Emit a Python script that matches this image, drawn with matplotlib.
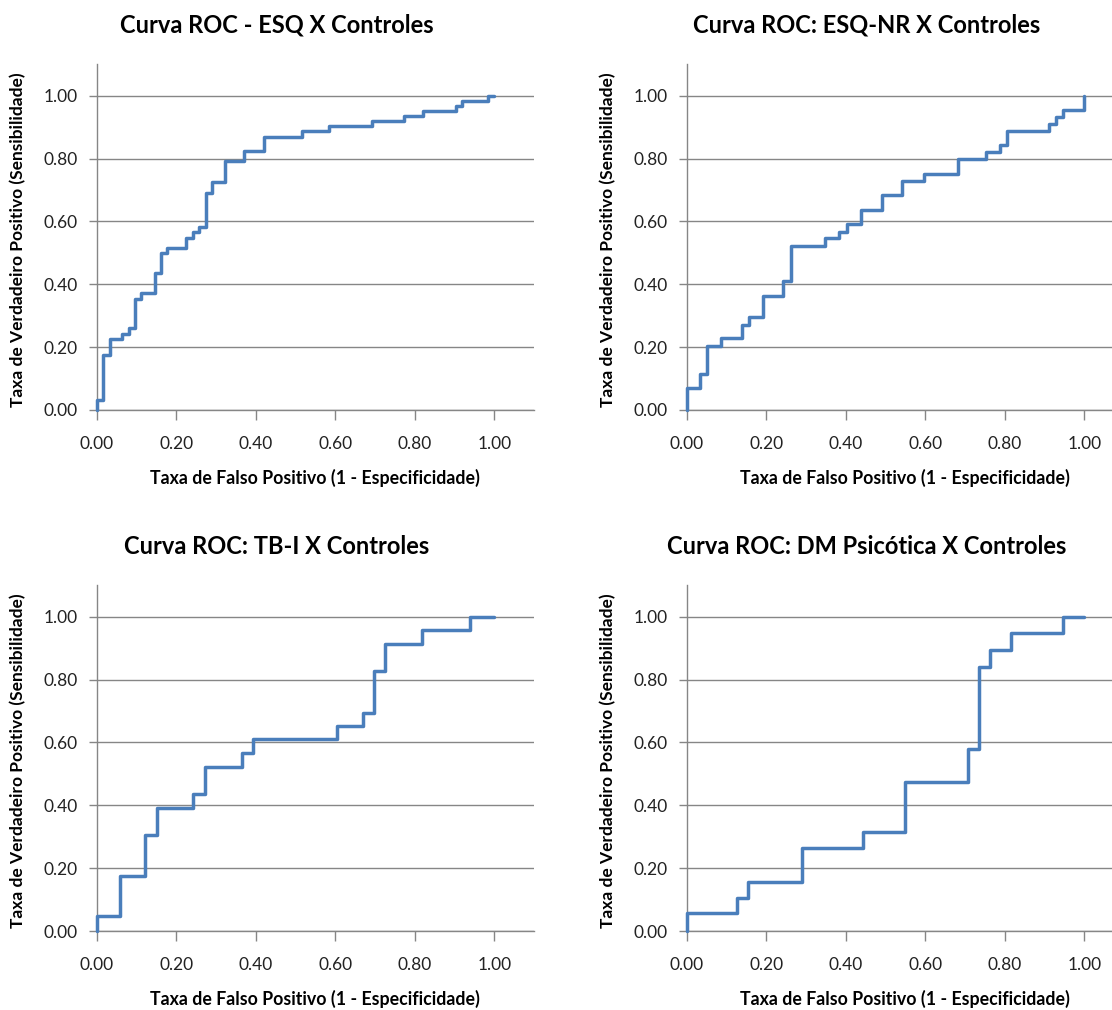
import matplotlib
matplotlib.use("Agg")
import matplotlib.pyplot as plt

plt.rcParams['font.family'] = ['Lato', 'DejaVu Sans']

titles = ["Curva ROC - ESQ X Controles", "Curva ROC: ESQ-NR X Controles",
          "Curva ROC: TB-I X Controles", "Curva ROC: DM Psicótica X Controles"]
xlabel = "Taxa de Falso Positivo (1 - Especificidade)"
ylabel = "Taxa de Verdadeiro Positivo (Sensibilidade)"
ticks = [0.0, 0.2, 0.4, 0.6, 0.8, 1.0]
tick_labels = ["0.00", "0.20", "0.40", "0.60", "0.80", "1.00"]

# ROC corner points: at each FPR the curve rises to the given TPR
fpr_esq = [0, 0, 0.015, 0.034, 0.063, 0.080, 0.096, 0.111, 0.147, 0.161, 0.178, 0.225, 0.241,
           0.258, 0.275, 0.291, 0.323, 0.370, 0.420, 0.516, 0.583, 0.693, 0.774, 0.821,
           0.904, 0.920, 0.985, 1.0]
tpr_esq = [0, 0.032, 0.175, 0.225, 0.241, 0.260, 0.354, 0.372, 0.435, 0.499, 0.517, 0.549, 0.565,
           0.582, 0.692, 0.726, 0.791, 0.825, 0.870, 0.889, 0.904, 0.920, 0.936, 0.953,
           0.969, 0.985, 1.0, 1.0]

fpr_esqnr = [0, 0, 0.034, 0.052, 0.086, 0.138, 0.157, 0.193, 0.243, 0.262, 0.348, 0.384, 0.402,
             0.438, 0.490, 0.542, 0.597, 0.683, 0.753, 0.788, 0.806, 0.911, 0.930, 0.947, 1.0]
tpr_esqnr = [0, 0.069, 0.114, 0.205, 0.228, 0.271, 0.295, 0.364, 0.411, 0.523, 0.547, 0.568, 0.591,
             0.637, 0.683, 0.729, 0.752, 0.798, 0.821, 0.842, 0.889, 0.911, 0.934, 0.955, 1.0]

fpr_tbi = [0, 0, 0.059, 0.122, 0.151, 0.243, 0.272, 0.365, 0.394, 0.604, 0.669, 0.697, 0.725,
           0.817, 0.939, 1.0]
tpr_tbi = [0, 0.048, 0.176, 0.305, 0.392, 0.435, 0.523, 0.565, 0.611, 0.653, 0.695, 0.828, 0.915,
           0.958, 1.0, 1.0]

fpr_dm = [0, 0, 0.126, 0.155, 0.289, 0.444, 0.549, 0.708, 0.736, 0.763, 0.815, 0.947, 1.0]
tpr_dm = [0, 0.056, 0.106, 0.157, 0.265, 0.316, 0.475, 0.578, 0.841, 0.894, 0.950, 1.0, 1.0]

series = [(fpr_esq, tpr_esq), (fpr_esqnr, tpr_esqnr), (fpr_tbi, tpr_tbi), (fpr_dm, tpr_dm)]

W, H = 1112, 1010
fig = plt.figure(figsize=(W / 100, H / 100), dpi=100)

lefts = [96.7, 686.7, 96.7, 686.7]
zeros = [410, 410, 931, 931]   # pixel row of y=0
ppx = 397.6   # px per unit x
ppy = 314.2   # px per unit y
grid_c = '#868686'
line_c = '#4A7EBB'

for i, (fx, ty) in enumerate(series):
    l = lefts[i]
    y0 = zeros[i]
    w = 1.1 * ppx
    h = 1.1 * ppy
    ax = fig.add_axes([l / W, (H - y0) / H, w / W, h / H])
    ax.set_xlim(0, 1.1)
    ax.set_ylim(0, 1.1)
    for s in ['top', 'right']:
        ax.spines[s].set_visible(False)
    for s in ['left', 'bottom']:
        ax.spines[s].set_color(grid_c)
        ax.spines[s].set_linewidth(1.0)
    ax.set_xticks(ticks)
    ax.set_xticklabels(tick_labels)
    ax.set_yticks(ticks)
    ax.set_yticklabels(tick_labels)
    ax.tick_params(axis='x', direction='out', length=7, width=1.0, color=grid_c,
                   labelsize=12.5, labelcolor='#222222', pad=12)
    ax.tick_params(axis='y', direction='out', length=6, width=1.0, color=grid_c,
                   labelsize=12.5, labelcolor='#222222', pad=8)
    ax.yaxis.grid(True, color=grid_c, linewidth=1.0)
    ax.set_axisbelow(True)
    ax.plot(fx, ty, drawstyle='steps-post', color=line_c, linewidth=2.5,
            solid_joinstyle='round', solid_capstyle='round', clip_on=False, zorder=3)

    # title
    fig.text((l + 180) / W, (H - (33 + (y0 - 410))) / H, titles[i], ha='center', va='baseline',
             fontsize=17, fontweight='bold', color='black')
    # x label
    fig.text((l + 218) / W, (H - (y0 + 68)) / H, xlabel, ha='center', va='center',
             fontsize=12.8, fontweight='bold', color='black')
    # y label
    fig.text((l - 78.7) / W, (H - (y0 - 170)) / H, ylabel, ha='center', va='center',
             rotation=90, fontsize=12.5, fontweight='bold', color='black')

fig.savefig('out.png', dpi=100)
